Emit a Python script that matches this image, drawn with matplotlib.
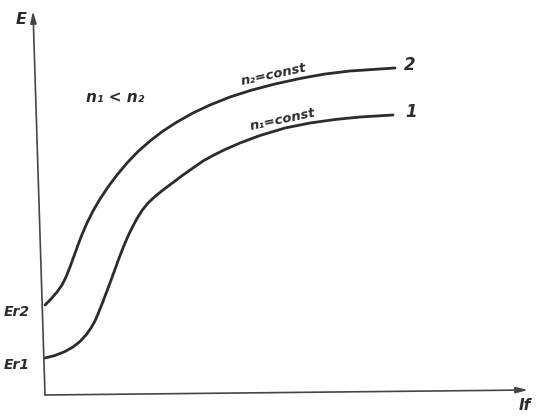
import matplotlib
matplotlib.use("Agg")
import matplotlib.pyplot as plt

# -----------------------------
# DATA (excitation current I_f vs EMF E, arbitrary units)
# -----------------------------
i_f_2 = [0, 0.6, 1.2, 1.7, 2.1, 2.5, 2.9, 3.3, 3.7, 4.2, 4.8, 5.5, 6.3, 7.2, 8.2, 9.3,
         10.5, 11.8, 13.2, 14.8, 16.5, 18.5, 20.7, 23.0, 25.5, 28.0, 30.5, 35.0]
e_2 = [9.0, 9.6, 10.3, 11.0, 11.8, 12.8, 13.9, 15.0, 16.05, 17.2, 18.4, 19.6, 20.8, 22.0, 23.2, 24.35,
       25.4, 26.4, 27.3, 28.2, 29.0, 29.8, 30.5, 31.1, 31.65, 32.1, 32.4, 32.7]

i_f_1 = [0, 1.0, 2.0, 2.8, 3.5, 4.1, 4.6, 5.0, 5.3, 5.7, 6.1, 6.5, 6.9, 7.3, 7.7, 8.0, 8.4,
         8.8, 9.2, 9.7, 10.3, 11.0, 11.8, 12.8, 13.8, 14.8, 15.8, 16.8, 18.0, 19.5, 21.5,
         24.0, 26.5, 29.0, 31.5, 34.8]
e_1 = [3.7, 3.95, 4.35, 4.8, 5.35, 6.0, 6.7, 7.4, 8.1, 9.1, 10.15, 11.2, 12.3, 13.4, 14.45, 15.2, 16.1,
       16.9, 17.65, 18.45, 19.2, 19.85, 20.5, 21.25, 22.0, 22.7, 23.4, 23.95, 24.55, 25.2, 25.95,
       26.7, 27.2, 27.55, 27.8, 28.0]

curve_labels = ["1", "2"]
speed_labels = ["n\u2081=const", "n\u2082=const"]
residual_labels = ["Er1", "Er2"]

# -----------------------------
# PLOT
# -----------------------------
ink = "#2b2b2b"
fig = plt.figure(figsize=(5.41, 4.16), dpi=100)
ax = fig.add_axes([0, 0, 1, 1])
ax.set_xlim(-4.5, 49.6)
ax.set_ylim(-2.1, 39.5)
ax.axis("off")

for xs, ys in [(i_f_2, e_2), (i_f_1, e_1)]:
    ax.plot(xs, ys, color=ink, lw=2.0, solid_capstyle="round", solid_joinstyle="round")

# axes drawn by hand (slightly slanted, like the sketch)
arrow = dict(arrowstyle="-|>,head_length=0.7,head_width=0.18", color="#454545", lw=1.2,
             shrinkA=0, shrinkB=0)
ax.annotate("", xy=(-1.2, 38.4), xytext=(0, 0), arrowprops=arrow)
ax.annotate("", xy=(48.3, 0.5), xytext=(0, 0), arrowprops=arrow)

txt = dict(color=ink, style="italic", weight="bold", family="DejaVu Sans")
ax.text(-2.4, 37.6, "E", fontsize=11.5, ha="center", va="center", **txt)
ax.text(47.4, -1.0, "If", fontsize=11, ha="left", va="center", **txt)

ax.text(-4.1, 8.3, residual_labels[1], fontsize=10, ha="left", va="center", **txt)
ax.text(-4.1, 3.0, residual_labels[0], fontsize=10, ha="left", va="center", **txt)

ax.text(7.0, 29.7, "n\u2081 < n\u2082", fontsize=11, ha="center", va="center", **txt)

ax.text(22.9, 32.0, speed_labels[1], fontsize=9.5, ha="center", va="center",
        rotation=12, **txt)
ax.text(23.8, 27.5, speed_labels[0], fontsize=9.5, ha="center", va="center",
        rotation=12, **txt)

ax.text(i_f_2[-1] + 0.9, e_2[-1] + 0.3, curve_labels[1], fontsize=12, ha="left", va="center", **txt)
ax.text(i_f_1[-1] + 1.2, e_1[-1] + 0.3, curve_labels[0], fontsize=12, ha="left", va="center", **txt)

plt.savefig("out.png", dpi=100)
plt.close()
